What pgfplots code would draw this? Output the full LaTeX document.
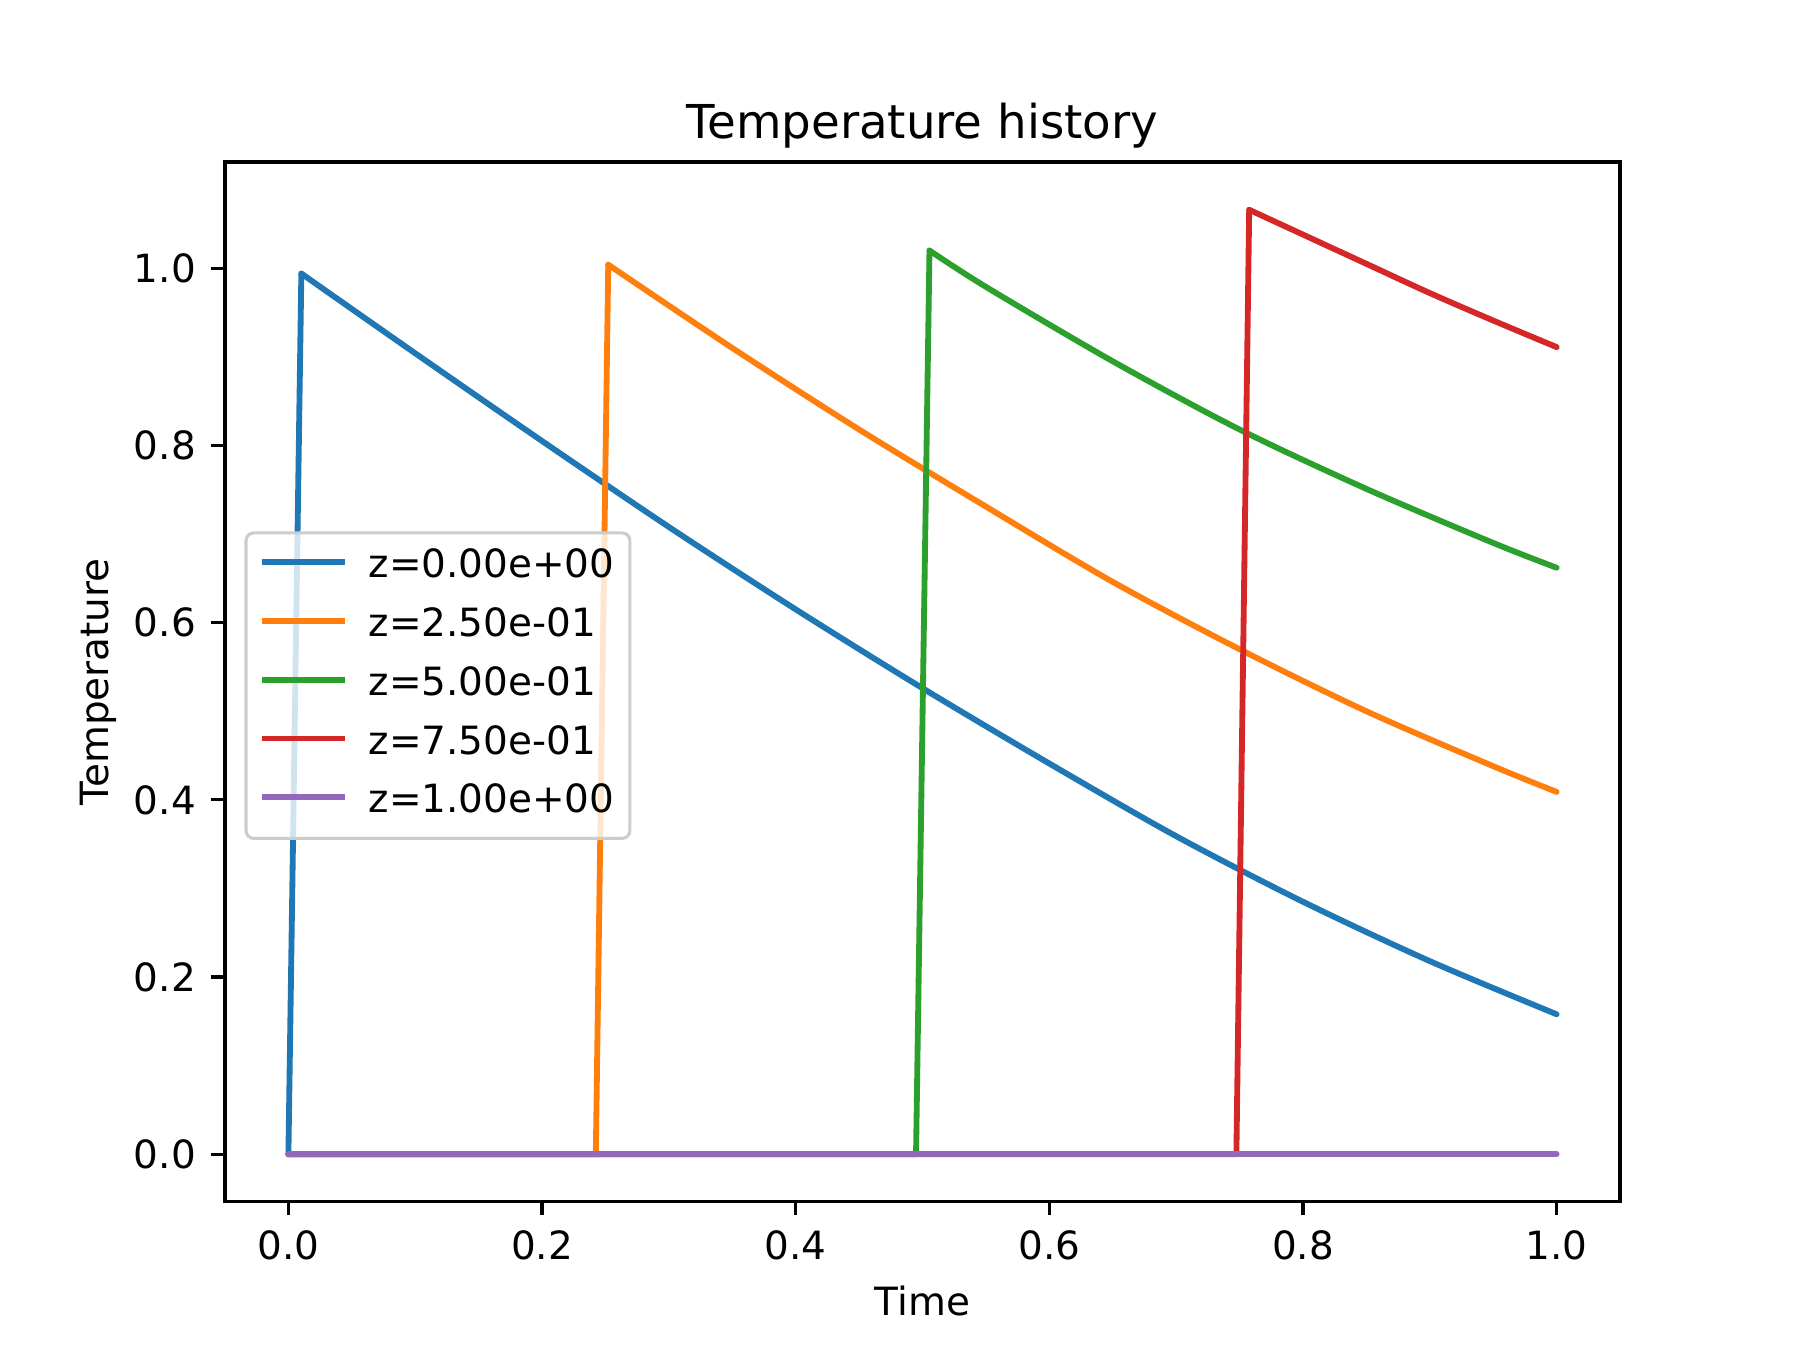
\documentclass[border=0pt]{standalone}
\usepackage{fontspec}
\setmainfont{DejaVu Sans}
\usepackage{pgfplots}
\pgfplotsset{compat=1.18}
\definecolor{c0}{HTML}{1F77B4}
\definecolor{c1}{HTML}{FF7F0E}
\definecolor{c2}{HTML}{2CA02C}
\definecolor{c3}{HTML}{D62728}
\definecolor{c4}{HTML}{9467BD}
\begin{document}
\begin{tikzpicture}
\path[use as bounding box] (0,0) rectangle (6.4in,4.8in);
\begin{axis}[
  at={(0.8in,0.528in)}, anchor=south west,
  scale only axis, width=4.96in, height=3.696in,
  xmin=-0.05, xmax=1.05, ymin=-0.05333, ymax=1.11993,
  font=\fontsize{10}{12}\selectfont,
  axis line style={line width=0.8pt, black},
  every tick/.style={line width=0.8pt, black},
  major tick length=3.5pt,
  tick align=outside,
  xtick pos=bottom, ytick pos=left,
  xtick={0,0.2,0.4,0.6,0.8,1.0},
  xticklabels={0.0,0.2,0.4,0.6,0.8,1.0},
  ytick={0,0.2,0.4,0.6,0.8,1.0},
  yticklabels={0.0,0.2,0.4,0.6,0.8,1.0},
  xticklabel style={anchor=base, inner sep=0pt, yshift=-11.3pt},
  yticklabel style={anchor=east, inner sep=0pt, xshift=-3.8pt},
  title={Temperature history},
  title style={at={(axis description cs:0.5,1)}, anchor=base, inner sep=0pt, font=\fontsize{12}{14}\selectfont},
  xlabel={Time},
  xlabel style={at={(axis description cs:0.5,-0.1097)}, anchor=base, inner sep=0pt},
  ylabel={Temperature},
  ylabel style={at={(axis description cs:-0.0832,0.5)}, anchor=base, inner sep=0pt},
  legend cell align=left,
  legend image code/.code={\path[draw=none] (0pt,0pt) rectangle (20pt,3.6pt); \draw[#1, line cap=rect] (0pt,1.5pt) -- (20pt,1.5pt);},
  legend style={at={(axis description cs:0,0.5)}, anchor=west, xshift=5pt, yshift=-1pt,
    draw=black!20, line width=0.8pt, rounded corners=2pt, fill=white, fill opacity=0.8, text opacity=1,
    inner xsep=4pt, inner ysep=1.5pt, row sep=0pt, column sep=6pt,
    font=\fontsize{10}{12}\selectfont,
    nodes={inner xsep=0pt, inner ysep=2.55pt, text height=7.5pt, text depth=2.5pt}},
  every axis plot/.append style={line width=1.5pt, line join=round, line cap=round},
]
% blue, z = 0
\addplot[c0, forget plot] coordinates {(0,0) (0.0102,0.994)};
\addplot[c0, smooth] coordinates {
(0.0102,0.994) (0.1,0.904) (0.2,0.805) (0.3,0.708) (0.4,0.615) (0.5,0.526)
(0.6,0.441) (0.7,0.359) (0.8,0.285) (0.9,0.218) (1.0,0.158)};
\addlegendentry{z=0.00e+00}
% orange, z = 0.25
\addplot[c1, forget plot] coordinates {(0,0) (0.2424,0) (0.2522,1.004)};
\addplot[c1, smooth] coordinates {
(0.2522,1.004) (0.35,0.910) (0.45,0.818) (0.55,0.731) (0.65,0.646)
(0.75,0.570) (0.85,0.500) (0.95,0.438) (1.0,0.409)};
\addlegendentry{z=2.50e-01}
% green, z = 0.5
\addplot[c2, forget plot] coordinates {(0,0) (0.4949,0) (0.5055,1.020)};
\addplot[c2, smooth] coordinates {
(0.5055,1.020) (0.55,0.979) (0.65,0.895) (0.75,0.818) (0.85,0.751)
(0.95,0.690) (1.0,0.662)};
\addlegendentry{z=5.00e-01}
% red, z = 0.75
\addplot[c3, forget plot] coordinates {(0,0) (0.7475,0) (0.7576,1.066)};
\addplot[c3, smooth] coordinates {
(0.7576,1.066) (0.80,1.038) (0.85,1.005) (0.90,0.972) (0.95,0.941) (1.0,0.911)};
\addlegendentry{z=7.50e-01}
% purple, z = 1
\addplot[c4] coordinates {(0,0) (1.0,0)};
\addlegendentry{z=1.00e+00}
\end{axis}
\end{tikzpicture}
\end{document}
